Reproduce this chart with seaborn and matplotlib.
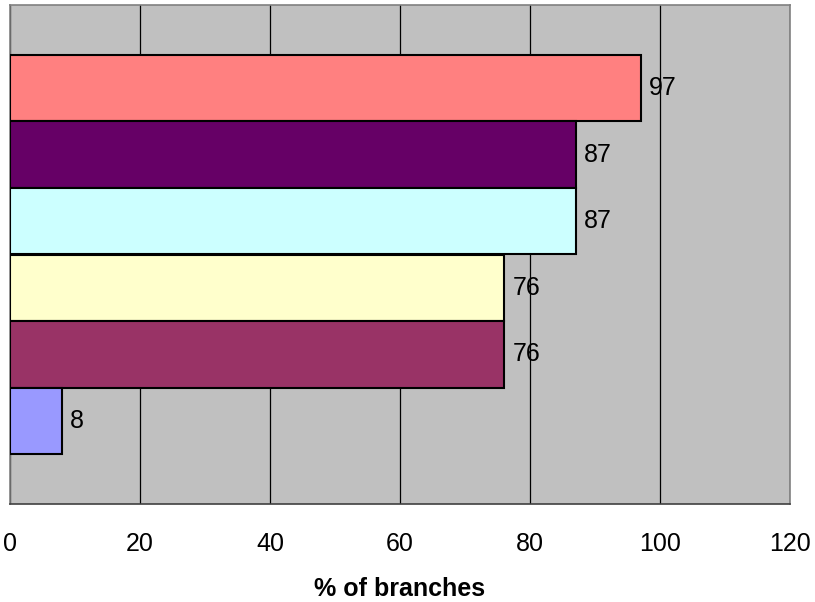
import matplotlib
matplotlib.use("Agg")
import matplotlib.pyplot as plt
import numpy as np
import pandas as pd
import seaborn as sns

# series top-to-bottom as drawn
series = ["S1", "S2", "S3", "S4", "S5", "S6"]
values = [97, 87, 87, 76, 76, 8]
colors = ["#FF8080", "#660066", "#CCFFFF", "#FFFFCC", "#993366", "#9999FF"]
xticks = [0, 20, 40, 60, 80, 100, 120]
xlabel = "% of branches"

df = pd.DataFrame({"series": series, "value": values, "group": ["all"] * len(series)})

sns.set_style("white")
plt.rcParams["font.family"] = ["Liberation Sans", "DejaVu Sans"]
plt.rcParams["text.color"] = "black"
plt.rcParams["xtick.color"] = "black"
plt.rcParams["axes.labelcolor"] = "black"

fig = plt.figure(figsize=(8.15, 6.02), dpi=100)
ax = fig.add_axes([10 / 815, 1 - 504 / 602, 780 / 815, 499 / 602])

sns.barplot(data=df, x="value", y="group", hue="series", hue_order=series,
            palette=colors, saturation=1, orient="h", width=0.8, dodge=True,
            edgecolor="black", linewidth=1.5, legend=False, ax=ax, zorder=3)

# labels sit under the gridlines, as in the original
for c in ax.containers:
    ax.bar_label(c, padding=6, fontsize=18, color="black", zorder=0.4)

ax.set_facecolor("#C0C0C0")
ax.set_xlim(0, 120)
ax.set_ylim(0.5, -0.5)
ax.set_xticks(xticks)
ax.set_xticklabels([str(t) for t in xticks], fontsize=18)
ax.set_yticks([])
ax.set_ylabel("")
ax.set_xlabel(xlabel, fontsize=18, fontweight="bold", labelpad=15)
ax.xaxis.grid(True, color="black", linewidth=0.9)
ax.set_axisbelow(True)
ax.tick_params(axis="x", direction="out", length=6, width=1, color="#404040",
               labelcolor="black", pad=14)
for s in ["left", "top", "right"]:
    ax.spines[s].set_color("#808080")
    ax.spines[s].set_linewidth(1.2)
ax.spines["bottom"].set_color("#404040")
ax.spines["bottom"].set_linewidth(1.2)

fig.savefig("out.png", dpi=100, facecolor="white")
